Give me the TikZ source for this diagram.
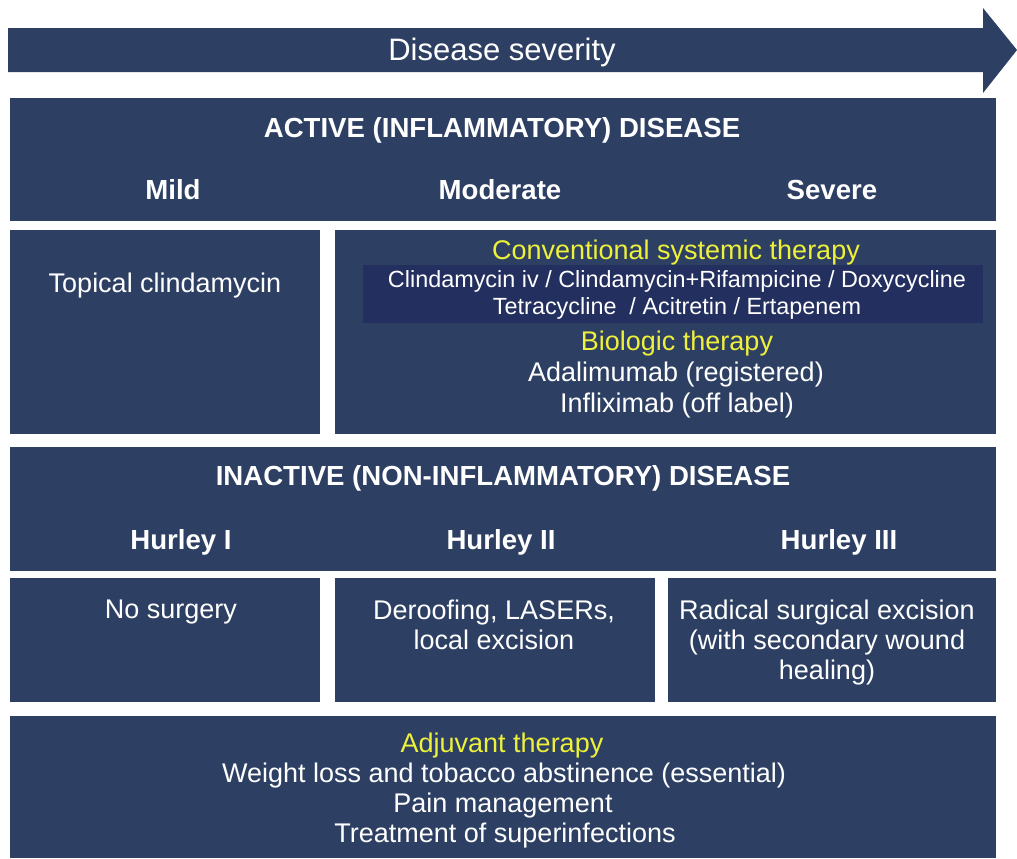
\documentclass[tikz,border=0pt]{standalone}
\usepackage{fontspec}
\setmainfont{Liberation Sans}
\definecolor{navy}{HTML}{2D4063}
\definecolor{band}{HTML}{232F5E}
\definecolor{hilite}{HTML}{EEF03A}

\begin{document}
\begin{tikzpicture}[x=0.5pt,y=-0.5pt,
  txt/.style={white,font=\fontsize{13.5}{15}\selectfont,align=center,inner sep=0pt},
  small/.style={white,font=\fontsize{11.7}{13.5}\selectfont,align=center,inner sep=0pt},
  head/.style={white,font=\fontsize{13.8}{16}\selectfont\bfseries,inner sep=0pt},
  ylw/.style={hilite,font=\fontsize{13.5}{15}\selectfont,inner sep=0pt}]
\useasboundingbox (0,0) rectangle (1017,858);
% severity arrow
\fill[navy] (8,28) -- (983,28) -- (983,8) -- (1017,50) -- (983,93) -- (983,72) -- (8,72) -- cycle;
\node[white,font=\fontsize{15.5}{18}\selectfont,inner sep=0pt] (sev) at (502,52) {Disease severity};

% active disease
\fill[navy] (10,98) rectangle (996,221);
\fill[navy] (10,230) rectangle (320,434);
\fill[navy] (335,230) rectangle (996,434);
\fill[band] (363,265) rectangle (983,323);
\node[head] (act) at (502,130) {ACTIVE (INFLAMMATORY) DISEASE};
\node[head] (mild) at (173,190) {Mild};
\node[head] (moderate) at (500,190) {Moderate};
\node[head] (severe) at (832,190) {Severe};
\node[txt] (topical) at (165,286) {Topical clindamycin};
\node[ylw] (conv) at (676,253) {Conventional systemic therapy};
\node[small] (drugs) at (677,295) {Clindamycin iv / Clindamycin+Rifampicine / Doxycycline\\Tetracycline \ / Acitretin / Ertapenem};
\node[ylw] (bio) at (677,344) {Biologic therapy};
\node[txt] (adal) at (676,375) {Adalimumab (registered)};
\node[txt] (infl) at (677,406) {Infliximab (off label)};

% inactive disease
\fill[navy] (10,447) rectangle (996,571);
\fill[navy] (10,578) rectangle (320,702);
\fill[navy] (335,578) rectangle (655,702);
\fill[navy] (668,578) rectangle (996,702);
\node[head] (inact) at (503,478) {INACTIVE (NON-INFLAMMATORY) DISEASE};
\node[head] (hurA) at (181,542) {Hurley I};
\node[head] (hurB) at (501,542) {Hurley II};
\node[head] (hurC) at (839,542) {Hurley III};
\node[txt,anchor=north] (nosurg) at (171,600) {No surgery};
\node[txt,anchor=north] (deroof) at (494,600) {Deroofing, LASERs,\\local excision};
\node[txt,anchor=north] (radical) at (827,600) {Radical surgical excision\\(with secondary wound\\healing)};

% adjuvant
\fill[navy] (10,716) rectangle (996,858);
\node[ylw] (adj) at (502,746) {Adjuvant therapy};
\node[txt] (weight) at (504,776) {Weight loss and tobacco abstinence (essential)};
\node[txt] (pain) at (503,806) {Pain management};
\node[txt] (treat) at (505,836) {Treatment of superinfections};
\end{tikzpicture}
\end{document}
